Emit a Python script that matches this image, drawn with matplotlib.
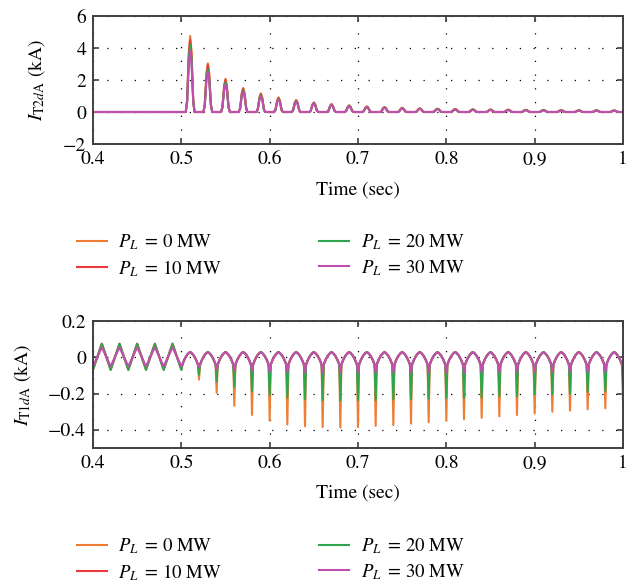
import matplotlib
matplotlib.use('Agg')
import matplotlib.pyplot as plt
from matplotlib.ticker import FuncFormatter

plt.rcParams['font.family'] = ['STIXGeneral', 'DejaVu Serif']
plt.rcParams['mathtext.fontset'] = 'stix'
plt.rcParams['font.size'] = 13.5
plt.rcParams['axes.unicode_minus'] = True

# ---------------- data ----------------
labels = [r'$P_L\,$ = 0 MW', r'$P_L\,$ = 10 MW', r'$P_L\,$ = 20 MW', r'$P_L\,$ = 30 MW']
colors = ['#ee7d35', '#e8393c', '#2fa64d', '#c14fae']

# top plot: I_T2dA pulses (kA), one pulse every 0.02 s after the fault
pulse_times = [0.51, 0.53, 0.55, 0.57, 0.59, 0.61, 0.63, 0.65, 0.67, 0.69, 0.71, 0.73, 0.75,
               0.77, 0.79, 0.81, 0.83, 0.85, 0.87, 0.89, 0.91, 0.93, 0.95, 0.97, 0.99]
peaks_0mw = [4.75, 3.04, 2.08, 1.50, 1.17, 0.92, 0.75, 0.60, 0.50, 0.42, 0.35, 0.31, 0.26,
             0.23, 0.21, 0.19, 0.17, 0.16, 0.15, 0.14, 0.13, 0.12, 0.11, 0.11, 0.10]
peaks_10mw = [4.50, 2.95, 2.00, 1.45, 1.12, 0.88, 0.72, 0.58, 0.48, 0.40, 0.34, 0.30, 0.25,
              0.22, 0.20, 0.18, 0.16, 0.15, 0.14, 0.13, 0.12, 0.11, 0.10, 0.10, 0.09]
peaks_20mw = [4.20, 2.68, 1.85, 1.35, 1.05, 0.83, 0.68, 0.55, 0.45, 0.38, 0.32, 0.28, 0.24,
              0.21, 0.19, 0.17, 0.15, 0.14, 0.13, 0.12, 0.11, 0.10, 0.10, 0.09, 0.09]
peaks_30mw = [3.85, 2.50, 1.72, 1.27, 0.98, 0.78, 0.64, 0.52, 0.43, 0.36, 0.30, 0.26, 0.22,
              0.20, 0.18, 0.16, 0.14, 0.13, 0.12, 0.11, 0.10, 0.10, 0.09, 0.08, 0.08]
# pulse outline (offset in s from the pulse time, fraction of the peak)
pulse_dt = [-0.005, -0.0035, -0.0015, 0.0, 0.0015, 0.0035, 0.005]
pulse_frac = [0.0, 0.15, 0.8, 1.0, 0.8, 0.15, 0.0]

# bottom plot: I_T1dA (kA)
pre_times = [0.40, 0.41, 0.42, 0.43, 0.44, 0.45, 0.46, 0.47, 0.48, 0.49]
pre_peak = [0.075, 0.072, 0.075, 0.055]
pre_trough = [-0.068, -0.065, -0.070, -0.050]

trough_times = [0.50, 0.52, 0.54, 0.56, 0.58, 0.60, 0.62, 0.64, 0.66, 0.68, 0.70, 0.72, 0.74,
                0.76, 0.78, 0.80, 0.82, 0.84, 0.86, 0.88, 0.90, 0.92, 0.94, 0.96, 0.98, 1.00]
troughs_0mw = [-0.068, -0.123, -0.196, -0.267, -0.318, -0.349, -0.370, -0.381, -0.385, -0.387,
               -0.385, -0.378, -0.374, -0.366, -0.358, -0.350, -0.341, -0.334, -0.325, -0.318,
               -0.310, -0.300, -0.294, -0.287, -0.281, -0.245]
troughs_10mw = [-0.065, -0.072, -0.082, -0.100, -0.109, -0.118, -0.123, -0.127, -0.130, -0.130,
                -0.130, -0.130, -0.130, -0.128, -0.127, -0.127, -0.126, -0.125, -0.124, -0.123,
                -0.122, -0.120, -0.120, -0.118, -0.117, -0.100]
troughs_20mw = [-0.070, -0.096, -0.132, -0.163, -0.187, -0.209, -0.221, -0.230, -0.236, -0.238,
                -0.236, -0.236, -0.233, -0.230, -0.227, -0.224, -0.224, -0.222, -0.216, -0.216,
                -0.203, -0.203, -0.200, -0.191, -0.187, -0.142]
troughs_30mw = [-0.050, -0.055, -0.065, -0.070, -0.075, -0.080, -0.082, -0.085, -0.085, -0.085,
                -0.085, -0.085, -0.085, -0.085, -0.085, -0.084, -0.084, -0.083, -0.083, -0.082,
                -0.082, -0.081, -0.080, -0.080, -0.080, -0.070]
# arch between two cusps after the fault (offset from the cusp, value in kA)
arch_dt = [0.0012, 0.0035, 0.006, 0.0085, 0.010, 0.0115, 0.014, 0.0165, 0.0188]
arch_val = [-0.040, -0.012, 0.010, 0.024, 0.029, 0.024, 0.010, -0.012, -0.040]


def pulse_wave(peaks):
    t = [0.4]
    y = [0.0]
    for tp, pk in zip(pulse_times, peaks):
        for dt, fr in zip(pulse_dt, pulse_frac):
            t.append(tp + dt)
            y.append(pk * fr)
    t.append(1.0)
    y.append(0.0)
    return t, y


def cusp_wave(peak, trough, troughs):
    t = []
    y = []
    # before the fault: simple zig-zag
    for i, tp in enumerate(pre_times):
        t.append(tp)
        y.append(peak if i % 2 == 1 else trough)
    # after the fault: rounded arches with sharp dips
    for i, tt in enumerate(trough_times):
        t.append(tt)
        y.append(troughs[i])
        if i < len(trough_times) - 1:
            for dt, v in zip(arch_dt, arch_val):
                t.append(tt + dt)
                y.append(v)
    return t, y


top_series = [peaks_0mw, peaks_10mw, peaks_20mw, peaks_30mw]
bottom_series = [troughs_0mw, troughs_10mw, troughs_20mw, troughs_30mw]

fig = plt.figure(figsize=(6.39, 5.88), dpi=100)
ax1 = fig.add_axes([93 / 639, 1 - 144 / 588, 530 / 639, 128 / 588])
ax2 = fig.add_axes([93 / 639, 1 - 448 / 588, 530 / 639, 127 / 588])

fmt = FuncFormatter(lambda v, p: ('%g' % round(v, 6)).replace('-', '\u2212'))

for k in range(4):
    t, y = pulse_wave(top_series[k])
    ax1.plot(t, y, color=colors[k], lw=1.5, label=labels[k])
    t, y = cusp_wave(pre_peak[k], pre_trough[k], bottom_series[k])
    ax2.plot(t, y, color=colors[k], lw=1.5, label=labels[k])

ax1.set_ylim(-2, 6)
ax1.set_yticks([-2, 0, 2, 4, 6])
ax2.set_ylim(-0.5, 0.2)
ax2.set_yticks([-0.4, -0.2, 0, 0.2])

for ax in (ax1, ax2):
    ax.set_xlim(0.4, 1.0)
    ax.set_xticks([0.4, 0.5, 0.6, 0.7, 0.8, 0.9, 1.0])
    ax.xaxis.set_major_formatter(fmt)
    ax.yaxis.set_major_formatter(fmt)
    ax.grid(True, color='black', linestyle=(0, (1, 10)), linewidth=0.9)
    ax.tick_params(direction='in', top=True, right=True, length=4, width=1.2,
                   color='#404040', pad=5, labelsize=14)
    for s in ax.spines.values():
        s.set_color('#404040')
        s.set_linewidth(1.4)
    ax.set_xlabel('Time (sec)', fontsize=14)

ax1.set_ylabel(r'$I_{\mathrm{T}2d\mathrm{A}}$ (kA)', fontsize=14)
ax2.set_ylabel(r'$I_{\mathrm{T}1d\mathrm{A}}$ (kA)', fontsize=14)
ax1.yaxis.set_label_coords(-0.087, 0.5)
ax2.yaxis.set_label_coords(-0.113, 0.5)
ax1.xaxis.set_label_coords(0.5, -0.29)
ax2.xaxis.set_label_coords(0.5, -0.283)

# legends below each plot
for ax, yc in ((ax1, 255.5), (ax2, 559.7)):
    ax.legend(loc='center left', bbox_to_anchor=(77 / 639, 1 - yc / 588),
              bbox_transform=fig.transFigure, ncol=2, frameon=False,
              handlelength=1.6, handletextpad=0.6, columnspacing=5.2,
              labelspacing=0.3, borderpad=0, borderaxespad=0, fontsize=13.5)

fig.savefig('out.png', dpi=100)
